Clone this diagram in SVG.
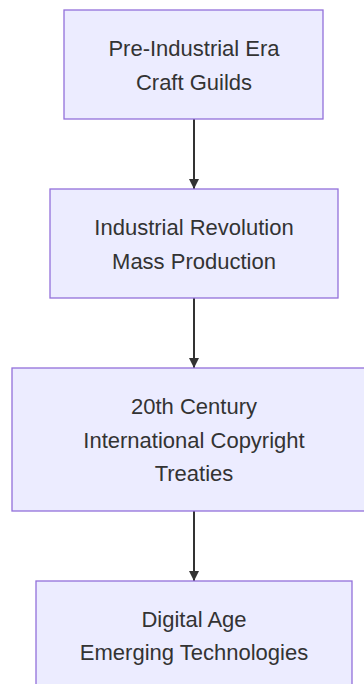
<svg xmlns="http://www.w3.org/2000/svg" width="364" height="684" viewBox="0 0 364 684">
<style>
.node rect{fill:#ECECFF;stroke:#9370DB;stroke-width:1.3}
.node text{font-family:"Liberation Sans",Arial,sans-serif;font-size:22px;fill:#333;text-anchor:middle}
.edge{stroke:#333;stroke-width:2;fill:none}
</style>
<defs>
<marker id="arr" viewBox="0 0 10 10" refX="10" refY="5" markerWidth="10" markerHeight="10" markerUnits="userSpaceOnUse" orient="auto">
<path d="M0,0 L10,5 L0,10 z" fill="#333"/>
</marker>
</defs>
<rect width="364" height="684" fill="#fff"/>
<g id="connectors">
<line class="edge" x1="194" y1="119" x2="194" y2="189" marker-end="url(#arr)"/>
<line class="edge" x1="194" y1="298" x2="194" y2="368" marker-end="url(#arr)"/>
<line class="edge" x1="194" y1="511" x2="194" y2="581" marker-end="url(#arr)"/>
</g>
<g id="n1" class="node">
<rect x="64" y="10" width="259" height="109"/>
<text x="194" y="56">Pre-Industrial Era</text>
<text x="194" y="89.5">Craft Guilds</text>
</g>
<g id="n2" class="node">
<rect x="50" y="189" width="288" height="109"/>
<text x="194" y="234.5">Industrial Revolution</text>
<text x="194" y="268.5">Mass Production</text>
</g>
<g id="n3" class="node">
<rect x="12" y="368" width="364" height="143"/>
<text x="194" y="414">20th Century</text>
<text x="194" y="447.5">International Copyright</text>
<text x="194" y="481">Treaties</text>
</g>
<g id="n4" class="node">
<rect x="36" y="581" width="316" height="120"/>
<text x="194" y="627">Digital Age</text>
<text x="194" y="659.5">Emerging Technologies</text>
</g>
</svg>
